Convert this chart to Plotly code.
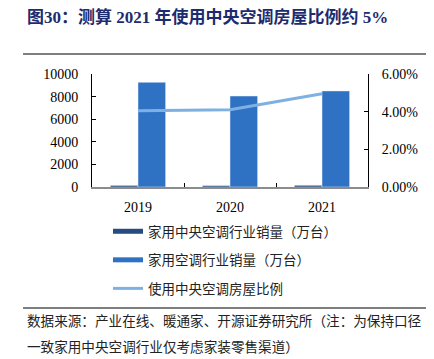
import plotly.graph_objects as go

years = ["2019", "2020", "2021"]
central_ac_sales = [140, 120, 150]          # 家用中央空调行业销量（万台）
household_ac_sales = [9260, 8050, 8500]     # 家用空调行业销量（万台）
central_ac_ratio = [0.0405, 0.041, 0.0495]  # 使用中央空调房屋比例

names = ["家用中央空调行业销量（万台）", "家用空调行业销量（万台）", "使用中央空调房屋比例"]
c_dark = "#264B80"
c_bar = "#2F72C4"
c_line = "#7EB1E2"

OFF = 8  # default page body margin
W, H = 434 - OFF, 359 - OFF
L, R, T, B = 92 - OFF, 368 - OFF, 74 - OFF, 187 - OFF

def px(x):
    return (x - OFF - L) / (R - L)

def py(y):
    return (B - (y - OFF)) / (B - T)

fig = go.Figure()
fig.add_trace(go.Bar(x=years, y=central_ac_sales, marker_color=c_dark, showlegend=False))
fig.add_trace(go.Bar(x=years, y=household_ac_sales, marker_color=c_bar, showlegend=False))
fig.add_trace(go.Scatter(x=years, y=central_ac_ratio, yaxis="y2", mode="lines",
                         line=dict(color=c_line, width=3), showlegend=False))
# legend entries
fig.add_trace(go.Scatter(x=[None], y=[None], mode="lines", name=names[0],
                         line=dict(color=c_dark, width=5), legendgroup="a"))
fig.add_trace(go.Scatter(x=[None], y=[None], mode="lines", name=names[1],
                         line=dict(color=c_bar, width=5), legendgroup="b"))
fig.add_trace(go.Scatter(x=[None], y=[None], mode="lines", name=names[2],
                         line=dict(color=c_line, width=3), legendgroup="c"))

tickfont = dict(family="Liberation Serif, Times New Roman, serif", size=14, color="#000")

fig.update_layout(
    width=W, height=H,
    margin=dict(l=L, r=W - R, t=T, b=H - B, pad=0, autoexpand=False),
    paper_bgcolor="white", plot_bgcolor="white",
    barmode="group", bargap=0.4, bargroupgap=0,
    xaxis=dict(type="category", showline=True, linecolor="#8C8C8C", linewidth=1.5,
               ticks="inside", tickson="boundaries", ticklen=4, tickcolor="#000",
               tickfont=tickfont, ticklabelstandoff=6, showgrid=False, zeroline=False),
    yaxis=dict(range=[0, 10000], dtick=2000, tickformat="d", showline=True, linecolor="#000",
               linewidth=1, ticks="inside", ticklen=4, tickcolor="#000", tickfont=tickfont,
               ticklabelstandoff=10, showgrid=False, zeroline=False),
    yaxis2=dict(range=[0, 0.06], dtick=0.02, tickformat=".2%", overlaying="y", side="right",
                showline=True, linecolor="#000", linewidth=1, ticks="inside", ticklen=4,
                tickcolor="#000", tickfont=tickfont, ticklabelstandoff=10,
                showgrid=False, zeroline=False),
    legend=dict(x=px(108), y=py(216), xanchor="left", yanchor="top",
                orientation="v", traceorder="grouped", tracegroupgap=8,
                font=dict(family="Noto Sans CJK SC", size=13.5, color="#222"),
                itemwidth=30, bgcolor="rgba(0,0,0,0)"),
    shapes=[
        dict(type="line", xref="paper", yref="paper", x0=px(23), x1=px(434),
             y0=py(54), y1=py(54), line=dict(color="#555", width=1.5)),
        dict(type="line", xref="paper", yref="paper", x0=px(23), x1=px(434),
             y0=py(308), y1=py(308), line=dict(color="#555", width=1.5)),
    ],
    annotations=[
        dict(text="<b>图30：测算 2021 年使用中央空调房屋比例约 5%</b>",
             xref="paper", yref="paper", x=px(25), y=py(17), xanchor="left", yanchor="middle",
             showarrow=False,
             font=dict(family="Liberation Serif, Noto Sans CJK SC", size=17, color="#1D2C6E")),
        dict(text="数据来源：产业在线、暖通家、开源证券研究所（注：为保持口径",
             xref="paper", yref="paper", x=px(25), y=py(320), xanchor="left", yanchor="middle",
             showarrow=False,
             font=dict(family="Noto Sans CJK SC", size=13.6, color="#222")),
        dict(text="一致家用中央空调行业仅考虑家装零售渠道）",
             xref="paper", yref="paper", x=px(25), y=py(346), xanchor="left", yanchor="middle",
             showarrow=False,
             font=dict(family="Noto Sans CJK SC", size=13.6, color="#222")),
    ],
)

fig.write_html("out.html")
